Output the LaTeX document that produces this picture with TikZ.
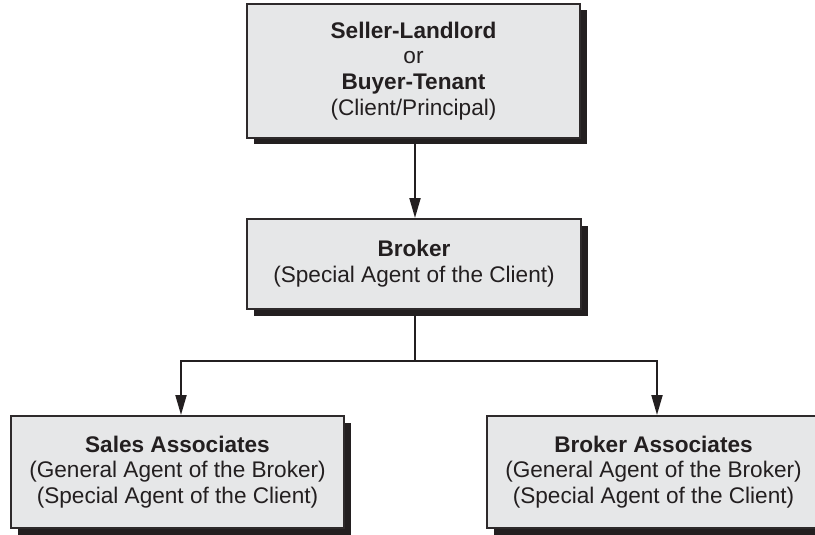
\documentclass[tikz,border=0pt]{standalone}
\usepackage{fontspec}
\setmainfont{Liberation Sans}
\usetikzlibrary{shadows,arrows.meta}
\definecolor{boxfill}{HTML}{E6E7E8}
\definecolor{ink}{HTML}{231F20}
\definecolor{edge}{HTML}{2E2A2B}
\begin{document}
\begin{tikzpicture}[x=1pt,y=-1pt,
  card/.style={draw=edge, line width=2pt, fill=boxfill, inner sep=0pt,
    align=center, text=ink, font=\fontsize{22.6}{25.8}\selectfont,
    drop shadow={shadow xshift=6.5pt, shadow yshift=-6.5pt, fill=ink, opacity=1}},
  link/.style={draw=ink, line width=2pt, -{Triangle[length=20pt,width=11pt]}}]
\useasboundingbox (0,0) rectangle (815,535);
\clip (0,0) rectangle (815,535);

% principal at the top
\node[card, minimum width=333pt, minimum height=134pt] (client) at (413.5,71)
  {\textbf{Seller-Landlord}\\or\\\textbf{Buyer-Tenant}\\(Client/Principal)};

% broker in the middle
\node[card, minimum width=334pt, minimum height=90pt] (broker) at (414,264)
  {\textbf{Broker}\\(Special Agent of the Client)};

% associates at the bottom
\node[card, minimum width=333pt, minimum height=112pt] (sales) at (177.5,472)
  {\textbf{Sales Associates}\\(General Agent of the Broker)\\(Special Agent of the Client)};
\node[card, minimum width=333pt, minimum height=112pt] (bassoc) at (653.5,472)
  {\textbf{Broker Associates}\\(General Agent of the Broker)\\(Special Agent of the Client)};

% connectors
\coordinate (split) at ([xshift=1pt]broker.south |- 0,361);
\draw[link] ([xshift=1.5pt]client.south) -- ([xshift=1pt]broker.north);
\draw[draw=ink, line width=2pt] ([xshift=1pt]broker.south) -- (split);
\draw[link] (split) -| ([xshift=3.5pt]sales.north);
\draw[link] (split) -| ([xshift=3.5pt]bassoc.north);
\end{tikzpicture}
\end{document}
